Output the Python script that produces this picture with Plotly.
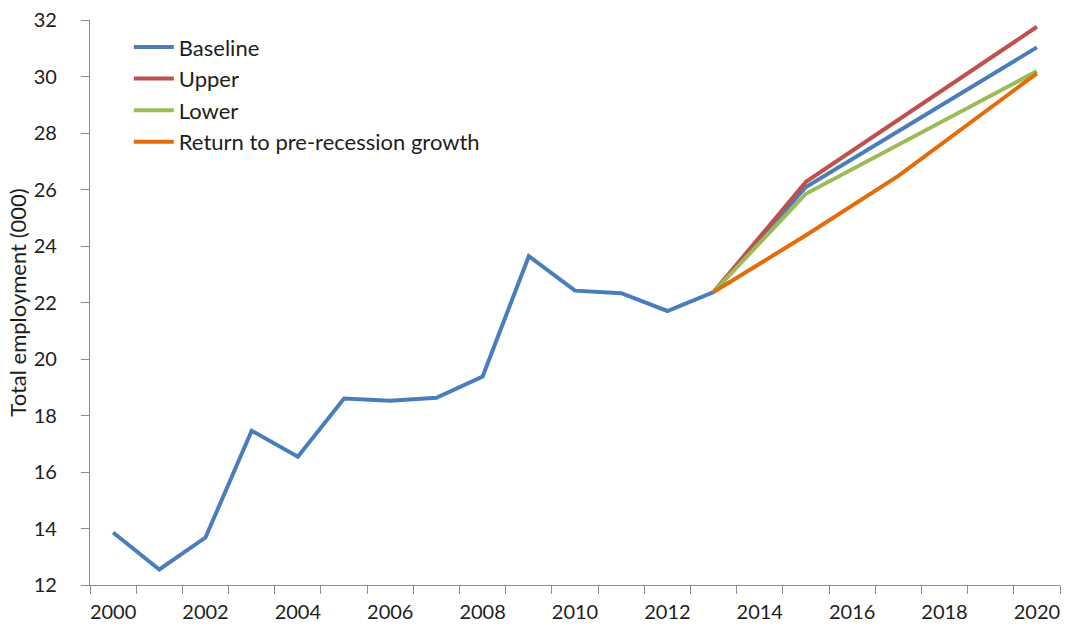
import plotly.graph_objects as go

# Years on the category axis
years = list(range(2000, 2021))

# Total employment (000); None = no published point for that year
baseline = [13.86, 12.55, 13.68, 17.46, 16.54, 18.60, 18.52, 18.63, 19.38, 23.64,
            22.42, 22.33, 21.70, 22.37, None, 26.09, None, None, None, 30.05, 31.03]
upper = [None] * 13 + [22.37, None, 26.27, None, None, None, None, 31.76]
lower = [None] * 13 + [22.37, None, 25.85, None, None, None, None, 30.19]
pre_recession = [None] * 13 + [22.37, None, 24.38, None, 26.48, None, None, 30.11]

series_names = ["Baseline", "Upper", "Lower", "Return to pre-recession growth"]
series_values = [baseline, upper, lower, pre_recession]
series_colors = ["#4A7EBB", "#C0504D", "#9BBB59", "#E46C0A"]

# Labels shown under every second year
label_years = list(range(2000, 2021, 2))
y_ticks = list(range(12, 33, 2))

FONT = "Lato, 'Open Sans', sans-serif"
TEXT = "#1E1E1E"
AXIS = "#8C8C8C"

fig = go.Figure()
for name, vals, col in zip(series_names, series_values, series_colors):
    fig.add_trace(go.Scatter(
        x=years, y=vals, name=name, mode="lines",
        connectgaps=True,
        line=dict(color=col, width=4),
    ))

fig.update_layout(
    width=1071, height=630, autosize=False,
    margin=dict(l=90, r=11, t=20, b=45),
    paper_bgcolor="white", plot_bgcolor="white",
    font=dict(family=FONT, size=20, color=TEXT),
    showlegend=True,
    legend=dict(
        x=0.040, y=0.989, xanchor="left", yanchor="top",
        bgcolor="rgba(0,0,0,0)", font=dict(size=22, color=TEXT),
        tracegroupgap=0, itemwidth=40,
    ),
)

fig.update_xaxes(
    range=[1999.5, 2020.5], automargin=False,
    tickmode="array", tickvals=label_years, ticktext=[str(y) for y in label_years],
    ticks="", showgrid=False, zeroline=False,
    showline=True, linecolor=AXIS, linewidth=1.3,
    ticklabelstandoff=9,
    tickfont=dict(size=20, color=TEXT),
    minor=dict(tickmode="linear", tick0=1999.5, dtick=1, ticks="outside",
               ticklen=8, tickcolor=AXIS, tickwidth=1.3, showgrid=False),
)

fig.update_yaxes(
    range=[12, 32], automargin=False,
    tickmode="array", tickvals=y_ticks,
    ticks="outside", ticklen=8, tickcolor=AXIS, tickwidth=1.3,
    showgrid=False, zeroline=False,
    showline=True, linecolor=AXIS, linewidth=1.3,
    ticklabelstandoff=20,
    tickfont=dict(size=20, color=TEXT),
    title=dict(text="Total employment (000)", font=dict(size=22, color=TEXT), standoff=0),
)

fig.write_html("out.html")
